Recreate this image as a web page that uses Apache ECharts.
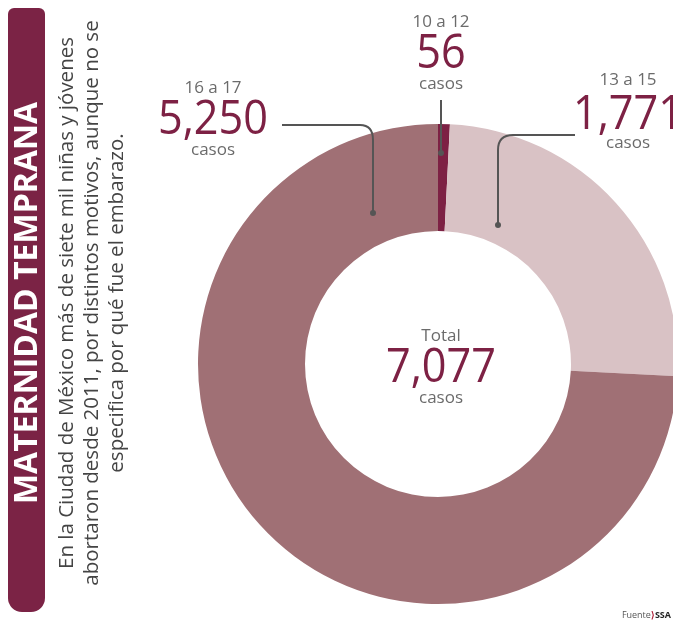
<!DOCTYPE html>
<html><head><meta charset="utf-8">
<script src="https://cdn.jsdelivr.net/npm/echarts@6/dist/echarts.min.js"></script>
<style>html,body{margin:0;padding:0;background:#fff}#c{width:673px;height:622px}</style>
</head><body><div id="c"></div>
<script>
const categories = ['10 a 12', '13 a 15', '16 a 17'];
const values = [56, 1771, 5250];
const unitLabel = 'casos';
const totalLabel = 'Total';
const titleText = 'MATERNIDAD TEMPRANA';
const bodyLines = [
  'En la Ciudad de México más de siete mil niñas y jóvenes',
  'abortaron desde 2011, por distintos motivos, aunque no se',
  'especifica por qué fue el embarazo.'
];
const sourceText = 'Fuente';
const sourceOrg = 'SSA';

const colors = ['#7d2144', '#d9c2c5', '#a07075'];
const burgundy = '#7d2144';
const gray = '#6b6b6b';
const fmt = v => v.toLocaleString('en-US');
const total = values.reduce((a, b) => a + b, 0);
const numFont = '"Open Sans", Lato, sans-serif';

// label anchor positions (annotation layout)
const labelPos = [
  {x: 433, yCat: 22, yNum: 55, yCasos: 84},
  {x: 628, yCat: 80, yNum: 116, yCasos: 143},
  {x: 213, yCat: 88, yNum: 121, yCasos: 150}
];

const chart = echarts.init(document.getElementById('c'), null, {renderer: 'canvas'});
const graphics = [];

// left panel
graphics.push({type: 'rect', shape: {x: 8, y: 8, width: 37, height: 604, r: [6, 6, 14, 14]}, style: {fill: '#7b2345'}});
graphics.push({type: 'text', x: 28, y: 303, rotation: Math.PI / 2,
  style: {text: titleText, fill: '#fff', font: 'bold 32px ' + numFont, align: 'center', verticalAlign: 'middle'}});
bodyLines.forEach((t, i) => {
  graphics.push({type: 'text', x: 67 + i * 25, y: 303, rotation: Math.PI / 2,
    style: {text: t, fill: '#444', font: '20.5px ' + numFont, align: 'center', verticalAlign: 'middle'}});
});

function numText(x, y, t) {
  return {type: 'text', x: x, y: y, scaleX: 0.92,
    style: {text: t, fill: burgundy, font: '47px ' + numFont, align: 'center', verticalAlign: 'middle'}};
}
function smallText(x, y, t) {
  return {type: 'text', x: x, y: y, style: {text: t, fill: gray, font: '17px ' + numFont, align: 'center', verticalAlign: 'middle'}};
}

// slice labels
categories.forEach((c, i) => {
  const p = labelPos[i];
  graphics.push(smallText(p.x + 8 * (i === 0), p.yCat, c));
  graphics.push(numText(p.x + 8 * (i === 0), p.yNum, fmt(values[i])));
  graphics.push(smallText(p.x + 8 * (i === 0), p.yCasos, unitLabel));
});

// center total
graphics.push(smallText(441, 336, totalLabel));
graphics.push(numText(441, 369, fmt(total)));
graphics.push(smallText(441, 398, unitLabel));

// leader lines
const ls = {stroke: '#555', lineWidth: 2};
const lineEl = (x1, y1, x2, y2) => ({type: 'line', z: 10, shape: {x1, y1, x2, y2}, style: ls});
const curveEl = (x1, y1, cx, cy, x2, y2) => ({type: 'bezierCurve', z: 10, shape: {x1, y1, cpx1: cx, cpy1: cy, x2, y2}, style: Object.assign({fill: null}, ls)});
const dotEl = (cx, cy) => ({type: 'circle', z: 10, shape: {cx, cy, r: 3}, style: {fill: '#555'}});

graphics.push(lineEl(282, 125, 360, 125));
graphics.push(curveEl(360, 125, 373, 125, 373, 140));
graphics.push(lineEl(373, 140, 373, 213));
graphics.push(dotEl(373, 213));

graphics.push(lineEl(441, 100, 441, 153));
graphics.push(dotEl(441, 153));

graphics.push(lineEl(575, 135, 513, 135));
graphics.push(curveEl(513, 135, 498, 135, 498, 150));
graphics.push(lineEl(498, 150, 498, 225));
graphics.push(dotEl(498, 225));

// source
graphics.push({type: 'text', x: 671, y: 615, style: {
  text: '{a|' + sourceText + '}{b|⟩}{c|' + sourceOrg + '}', align: 'right', verticalAlign: 'middle',
  rich: {a: {fill: '#555', font: '9px ' + numFont}, b: {fill: '#b0213a', font: 'bold 9px ' + numFont}, c: {fill: '#222', font: 'bold 9px ' + numFont}}
}});

chart.setOption({
  animation: false,
  series: [{
    type: 'pie',
    center: [438, 364],
    radius: [133, 240],
    startAngle: 90,
    clockwise: true,
    silent: true,
    label: {show: false},
    labelLine: {show: false},
    data: categories.map((c, i) => ({name: c, value: values[i], itemStyle: {color: colors[i]}}))
  }],
  graphic: graphics
});
</script></body></html>
